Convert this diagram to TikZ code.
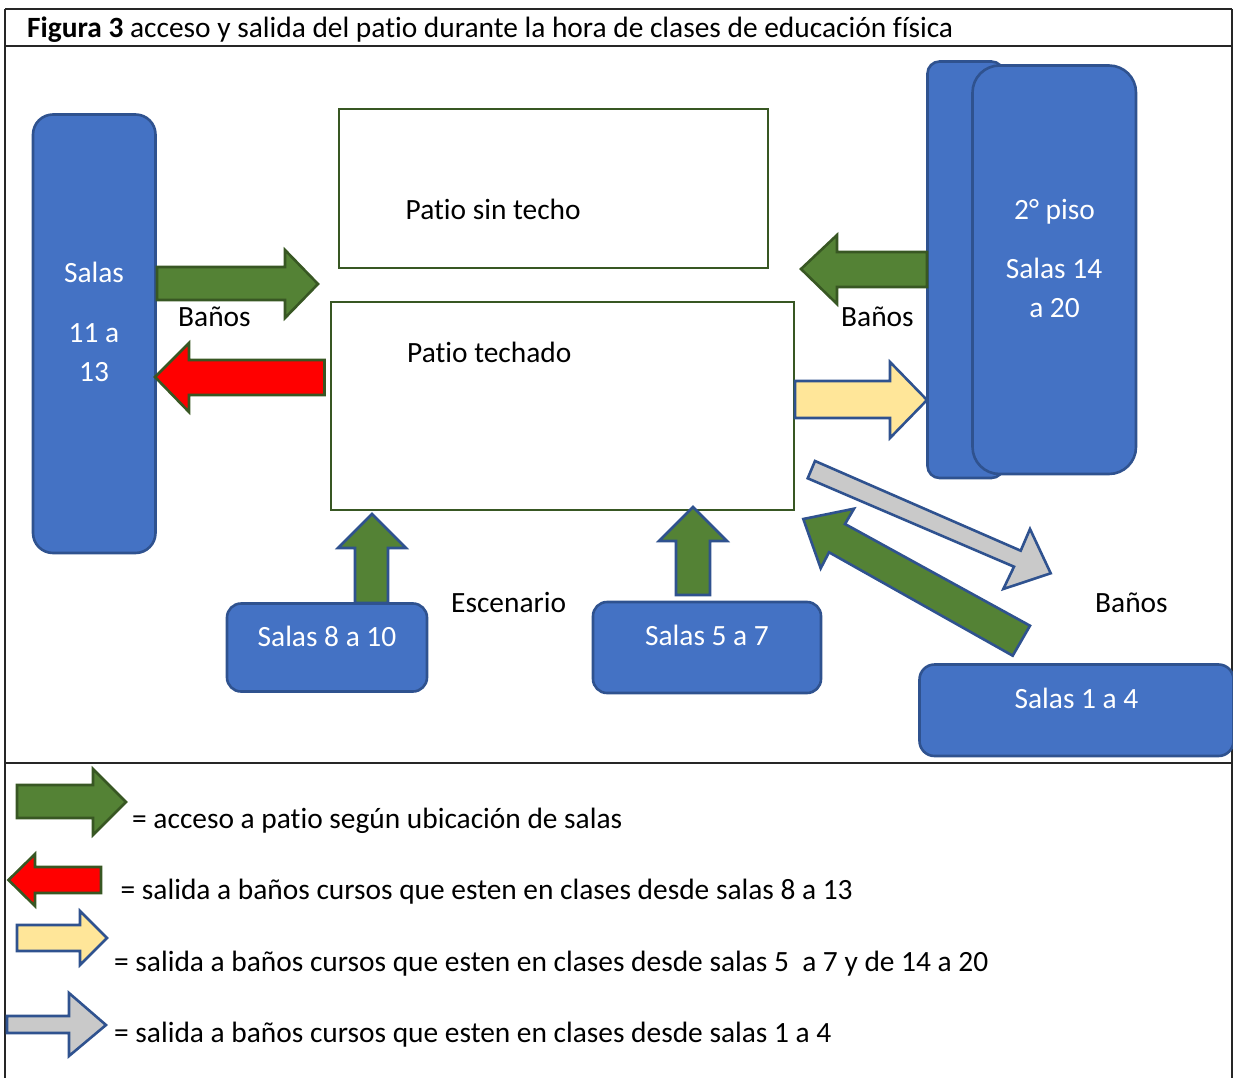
\documentclass[tikz,border=0pt]{standalone}
\usepackage{fontspec}
\setmainfont{Carlito}[Ligatures=NoCommon]
\definecolor{boxblue}{HTML}{4472C4}
\definecolor{edgeblue}{HTML}{2F528F}
\definecolor{fillgreen}{HTML}{548235}
\definecolor{edgegreen}{HTML}{385723}
\definecolor{fillyellow}{HTML}{FFE699}
\definecolor{fillgrey}{HTML}{C9C9C9}
\definecolor{framecol}{HTML}{262626}
\tikzset{
  x=1pt,y=-1pt,
  txt/.style={font=\fontsize{29.4}{32}\selectfont,text=black,inner sep=0pt,anchor=base west},
  wtxt/.style={font=\fontsize{29.4}{32}\selectfont,text=white,inner sep=0pt,anchor=base},
  room/.style={draw=edgeblue,fill=boxblue,line width=2.6pt,inner sep=0pt,outer sep=0pt,anchor=north west},
  patio/.style={draw=edgegreen,line width=2.8pt,inner sep=0pt,outer sep=0pt,anchor=north west},
  agreen/.style={draw=edgegreen,fill=fillgreen,line width=2.6pt,miter limit=10},
  agreenb/.style={draw=edgeblue,fill=fillgreen,line width=2.6pt,miter limit=10},
  ared/.style={draw=edgegreen,fill=red,line width=2.6pt,miter limit=10},
  ayellow/.style={draw=edgeblue,fill=fillyellow,line width=2.6pt,miter limit=10},
  agrey/.style={draw=edgeblue,fill=fillgrey,line width=2.6pt,miter limit=10},
  frameline/.style={draw=framecol,line width=1.2pt},
}
\newcommand{\roombox}[6][14pt]{\node[room,rounded corners=#1,minimum width=#4pt,minimum height=#5pt] (#6) at (#2,#3) {};}
\begin{document}
\begin{tikzpicture}
\useasboundingbox (0,0) rectangle (1233,1078);
% frame
\draw[frameline] (1232,9) -- (5,9);
\draw[frameline,line width=2pt] (5,9) -- (5,1078);
\draw[frameline] (1232,9) -- (1232,1078);
\draw[frameline] (5,46) -- (1232,46);
\draw[frameline] (5,763) -- (1232,763);
\node[txt] (title) at (27,38) {\textbf{Figura 3} acceso y salida del patio durante la hora de clases de educación física};
% rooms
\roombox[20pt]{33}{114.5}{122.5}{438.5}{salasA}
\roombox[12pt]{927.5}{61.5}{76}{416.5}{pisoB}
\roombox[27pt]{972.5}{65.5}{163.5}{408.5}{pisoF}
\roombox[14pt]{227}{603.5}{200}{88}{salasB}
\roombox[14pt]{593}{602}{228}{91}{salasC}
\roombox[15pt]{919.5}{664.5}{314}{91.5}{salasD}
% patios
\node[patio,minimum width=429pt,minimum height=159pt] (sintecho) at (339,109) {};
\node[patio,minimum width=463pt,minimum height=208pt] (techado) at (331,302) {};
% arrows
\draw[agreen] (157,267)--(285,267)--(285,250)--(318,284)--(285,318)--(285,300)--(157,300)--cycle;
\draw[ared] (324.5,360)--(189,360)--(189,343)--(155,377)--(189,412)--(189,395)--(324.5,395)--cycle;
\draw[agreen] (927,252)--(837,252)--(837,235)--(801,269)--(837,304)--(837,287)--(927,287)--cycle;
\draw[ayellow] (795,381)--(890,381)--(890,362)--(927,400)--(890,438)--(890,418)--(795,418)--cycle;
\draw[agrey] (815,461)--(1020.7,550.7)--(1030,529)--(1050.7,573.3)--(1003.3,589)--(1014,566.7)--(807.7,478.3)--cycle;
\draw[agreenb] (1030,625.7)--(845,524)--(854,508.7)--(803.3,519)--(820.7,568.3)--(829,552.3)--(1012.7,655.7)--cycle;
\draw[agreenb] (355,603)--(355,548)--(338,548)--(372,514)--(406,548)--(388,548)--(388,603)--cycle;
\draw[agreenb] (676,595)--(676,541)--(659,541)--(693,507)--(727,541)--(710,541)--(710,595)--cycle;
% legend arrows
\draw[agreen] (17,785)--(93,785)--(93,769)--(126,802)--(93,835)--(93,818)--(17,818)--cycle;
\draw[ared] (101,867)--(35,867)--(35,854)--(8.5,880)--(35,906)--(35,893)--(101,893)--cycle;
\draw[ayellow] (17,925)--(80,925)--(80,911)--(107,938)--(80,965)--(80,951)--(17,951)--cycle;
\draw[agrey] (7,1016)--(69,1016)--(69,993)--(106,1025)--(69,1056)--(69,1033)--(7,1033)--cycle;
% labels
\node[txt] (lsin) at (405.5,219) {Patio sin techo};
\node[txt] (ltec) at (407,362) {Patio techado};
\node[txt] (b1) at (178,326) {Baños};
\node[txt] (b2) at (841,326) {Baños};
\node[txt] (b3) at (1095,612) {Baños};
\node[txt] (esc) at (451,612) {Escenario};
\node[wtxt] (s1) at (94,282) {Salas};
\node[wtxt] (s2) at (94,342) {11 a};
\node[wtxt] (s3) at (94,381) {13};
\node[wtxt] (p1) at (1054.5,219) {2° piso};
\node[wtxt] (p2) at (1054,278.5) {Salas 14};
\node[wtxt] (p3) at (1054.5,317.5) {a 20};
\node[wtxt] (s810) at (327,646) {Salas 8 a 10};
\node[wtxt] (s57) at (707,645.5) {Salas 5 a 7};
\node[wtxt] (s14) at (1076.5,708.5) {Salas 1 a 4};
\node[txt] (l1) at (132,828) {= acceso a patio según ubicación de salas};
\node[txt] (l2) at (120.5,899) {= salida a baños cursos que esten en clases desde salas 8 a 13};
\node[txt] (l3) at (114,971) {= salida a baños cursos que esten en clases desde salas 5~ a 7 y de 14 a 20};
\node[txt] (l4) at (114,1042) {= salida a baños cursos que esten en clases desde salas 1 a 4};
\end{tikzpicture}
\end{document}
